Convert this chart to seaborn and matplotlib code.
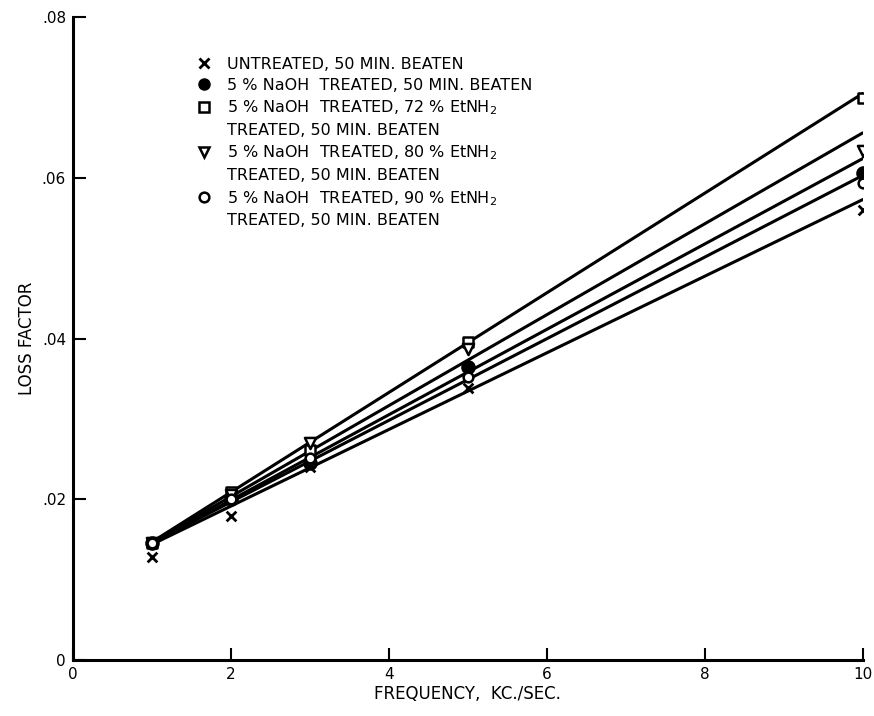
import matplotlib
matplotlib.use("Agg")
import matplotlib.pyplot as plt
from matplotlib.lines import Line2D
import seaborn as sns
import pandas as pd

# ---- data ----
freq = [1, 2, 3, 5, 10]
untreated = [0.0128, 0.0179, 0.0240, 0.0338, 0.0560]
naoh = [0.0146, 0.0200, 0.0245, 0.0365, 0.0606]
etnh2_72 = [0.0146, 0.0209, 0.0262, 0.0396, 0.0700]
etnh2_80 = [0.0146, 0.0205, 0.0270, 0.0387, 0.0634]
etnh2_90 = [0.0146, 0.0200, 0.0252, 0.0352, 0.0594]

# fitted lines (value at f=1 and f=10)
fit_freq = [1, 10]
fit_untreated = [0.0144, 0.0573]
fit_naoh = [0.0146, 0.0603]
fit_72 = [0.0147, 0.0705]
fit_80 = [0.0147, 0.0656]
fit_90 = [0.0146, 0.0624]

labels = [
    ("UNTREATED, 50 MIN. BEATEN", None),
    ("5 % NaOH  TREATED, 50 MIN. BEATEN", None),
    ("5 % NaOH  TREATED, 72 % EtNH$_2$", "TREATED, 50 MIN. BEATEN"),
    ("5 % NaOH  TREATED, 80 % EtNH$_2$", "TREATED, 50 MIN. BEATEN"),
    ("5 % NaOH  TREATED, 90 % EtNH$_2$", "TREATED, 50 MIN. BEATEN"),
]
x_ticks = [0, 2, 4, 6, 8, 10]
x_tick_labels = ["0", "2", "4", "6", "8", "10"]
y_ticks = [0, 0.02, 0.04, 0.06, 0.08]
y_tick_labels = ["0", ".02", ".04", ".06", ".08"]

series = [untreated, naoh, etnh2_72, etnh2_80, etnh2_90]
fits = [fit_untreated, fit_naoh, fit_72, fit_80, fit_90]
markers = ["x", "o", "s", "v", "o"]
filled = [True, True, False, False, False]
msizes = [7, 9, 7, 8, 7]

sns.set_theme(style="ticks")
plt.rcParams["font.family"] = ["DejaVu Sans"]

fig = plt.figure(figsize=(8.74, 7.16), dpi=100)
ax = fig.add_axes([0.0835, 0.078, 0.9035, 0.898])

for i in range(5):
    dfl = pd.DataFrame({"f": fit_freq, "v": fits[i]})
    sns.lineplot(data=dfl, x="f", y="v", ax=ax, color="black", lw=2.2,
                 legend=False, zorder=2)
for i in range(5):
    dfp = pd.DataFrame({"f": freq, "v": series[i]})
    kw = dict(marker=markers[i], s=msizes[i] ** 2, zorder=3, legend=False)
    if markers[i] == "x":
        kw.update(color="black", linewidth=2.0)
    elif filled[i]:
        kw.update(color="black", edgecolor="black", linewidth=1.5)
    else:
        kw.update(facecolor="white", edgecolor="black", linewidth=1.8)
    sns.scatterplot(data=dfp, x="f", y="v", ax=ax, **kw)

ax.set_xlim(0, 10)
ax.set_ylim(0, 0.08)
ax.set_xticks(x_ticks)
ax.set_xticklabels(x_tick_labels)
ax.set_yticks(y_ticks)
ax.set_yticklabels(y_tick_labels)
ax.tick_params(direction="in", length=9, width=1.5, labelsize=11,
               colors="black", pad=5)
for s in ["top", "right"]:
    ax.spines[s].set_visible(False)
for s in ["left", "bottom"]:
    ax.spines[s].set_linewidth(2.2)
    ax.spines[s].set_color("black")

ax.set_xlabel("FREQUENCY,  KC./SEC.", fontsize=12, labelpad=2, color="black")
ax.set_ylabel("LOSS FACTOR", fontsize=12, labelpad=4, color="black")

# legend
handles, texts = [], []
for i, (l1, l2) in enumerate(labels):
    if markers[i] == "x":
        h = Line2D([], [], marker="x", color="black", ls="none", ms=7, mew=2)
    elif filled[i]:
        h = Line2D([], [], marker="o", color="black", ls="none", ms=8)
    else:
        h = Line2D([], [], marker=markers[i], mfc="white", mec="black",
                   ls="none", ms=7, mew=1.8)
    handles.append(h)
    texts.append(l1)
    if l2:
        handles.append(Line2D([], [], ls="none"))
        texts.append(l2)
leg = ax.legend(handles, texts, loc="upper left", bbox_to_anchor=(0.15, 0.948),
                frameon=False, fontsize=11.5, handlelength=0.8,
                handletextpad=1.0, labelspacing=0.36, borderaxespad=0)
for t in leg.get_texts():
    t.set_color("black")

fig.savefig("out.png", dpi=100, facecolor="white")
